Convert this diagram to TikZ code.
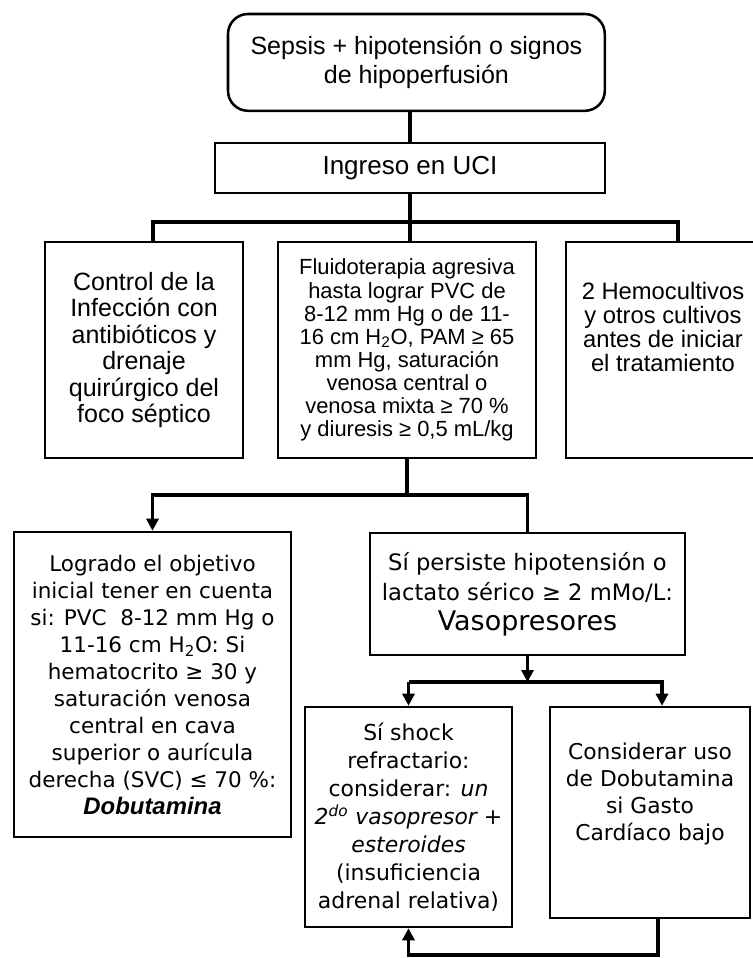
\documentclass[tikz,border=0pt]{standalone}
\usepackage{fontspec}
\setmainfont{Liberation Sans}
\newfontfamily\dejavu{DejaVu Sans}
\usetikzlibrary{arrows.meta}
\newcommand{\fsz}[2]{\fontsize{#1}{#2}\selectfont}

\begin{document}
\begin{tikzpicture}[
  >={Triangle[length=3mm,width=3mm]},
  box/.style={draw,line width=1.8pt,align=center,inner sep=2pt},
  link/.style={line width=2.4pt},
  flow/.style={->,link}
]
\useasboundingbox (0,0) rectangle (18.825,-23.95);
\clip (0,0) rectangle (18.825,-23.95);
\fill[white] (0,0) rectangle (18.825,-23.95);

% first rows
\node[box,rounded corners=0.5cm,minimum width=9.42cm,minimum height=2.42cm,
      font=\fsz{17.8pt}{21.3pt}] (sepsis) at (10.41,-1.56)
      {Sepsis + hipotensión o signos\\de hipoperfusión};
\node[box,minimum width=9.75cm,minimum height=1.25cm,font=\fsz{18.5pt}{20pt}]
      (uci) at (10.25,-4.2) {Ingreso en UCI};
\node[box,minimum width=4.95cm,minimum height=5.4cm,font=\fsz{17.8pt}{18.8pt}]
      (foco) at (3.6,-8.75)
      {Control de la\\Infección con\\antibióticos y\\drenaje\\quirúrgico del\\foco séptico};
\node[box,minimum width=6.45cm,minimum height=5.4cm,font=\fsz{15.6pt}{16.4pt}]
      (fluidos) at (10.175,-8.75)
      {Fluidoterapia agresiva\\hasta lograr PVC de\\8-12 mm Hg o de 11-\\16 cm H\textsubscript{2}O, PAM ≥ 65\\mm Hg, saturación\\venosa central o\\venosa mixta ≥ 70 \%\\y diuresis ≥ 0,5 mL/kg};
\node[box,minimum width=4.85cm,minimum height=5.4cm] (cultivos) at (16.575,-8.75) {};
\node[align=center,font=\fsz{16.9pt}{16.9pt}] (cultivostxt) at (16.575,-8.175)
      {2 Hemocultivos\\y otros cultivos\\antes de iniciar\\el tratamiento};

% lower rows
\node[box,minimum width=6.925cm,minimum height=7.625cm,font=\dejavu\fsz{15.3pt}{19.2pt}]
      (dobuta) at (3.8125,-17.1125)
      {Logrado el objetivo\\inicial tener en cuenta\\si: PVC~ 8-12 mm Hg o\\11-16 cm H\textsubscript{2}O: Si\\hematocrito ≥ 30 y\\saturación venosa\\central en cava\\superior o aurícula\\derecha (SVC) ≤ 70 \%:\\{\rmfamily\fsz{17pt}{19.2pt}\bfseries\itshape Dobutamina}};
\node[box,minimum width=7.875cm,minimum height=3.05cm,font=\dejavu\fsz{16.1pt}{21.3pt}]
      (vaso) at (13.1875,-14.85)
      {Sí persiste hipotensión o\\lactato sérico ≥ 2 mMo/L:\\{\fsz{19.2pt}{22pt}Vasopresores}};
\node[box,minimum width=5.175cm,minimum height=5.5cm,font=\dejavu\fsz{15.6pt}{19.9pt}]
      (shock) at (10.2125,-20.425)
      {Sí shock\\refractario:\\considerar: \textit{un}\\\textit{2\textsuperscript{do} vasopresor +}\\\textit{esteroides}\\(insuficiencia\\adrenal relativa)};
\node[box,minimum width=5cm,minimum height=5.275cm] (gasto) at (16.25,-20.3125) {};
\node[align=center,font=\dejavu\fsz{15.5pt}{19.2pt}] (gastotxt) at (16.25,-19.86)
      {Considerar uso\\de Dobutamina\\si Gasto\\Cardíaco bajo};

% connectors
\coordinate (bus1L) at (3.825,-5.55);
\coordinate (bus1R) at (16.95,-5.55);
\coordinate (bus2) at (0,-12.375);
\coordinate (bus3) at (0,-17.05);
\coordinate (bus3R) at (16.55,-17.05);
\coordinate (back) at (16.45,-23.875);
\draw[link] (sepsis.south -| uci) -- (uci.north);
\draw[link] (uci.south) -- (fluidos.north -| uci);
\draw[link] (foco.north -| bus1L) -- (bus1L) -- (bus1R) -- (cultivos.north -| bus1R);
\draw[link] (fluidos.south) -- (fluidos.south |- bus2);
\draw[flow] (vaso.north) -- (vaso.north |- bus2) -- (dobuta.north |- bus2) -- (dobuta.north);
\draw[flow] (vaso.south) -- (vaso.south |- bus3);
\draw[flow] (shock.north |- bus3) -- (shock.north);
\draw[flow] (shock.north |- bus3) -- (bus3R) -- (gasto.north -| bus3R);
\draw[flow] (gasto.south -| back) -- (back) -- (back -| shock.south) -- (shock.south);
\end{tikzpicture}
\end{document}
